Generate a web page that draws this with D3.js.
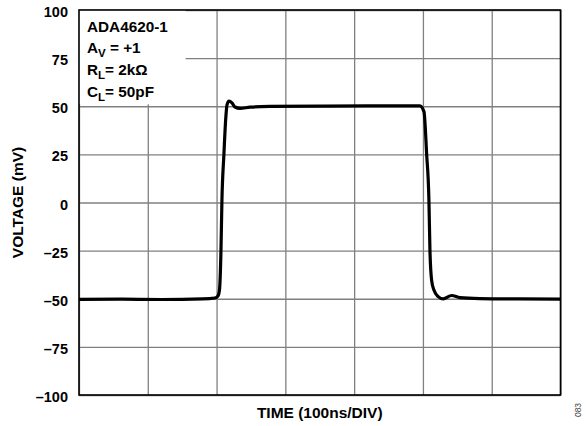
<!DOCTYPE html>
<html lang="en">
    <head>
	<meta charset="utf-8">
	<title>ADA4620-1 Small Signal Step Response</title>
	<script src="https://d3js.org/d3.v7.min.js" charset="utf-8"></script>
	<style>
	 body {
	     margin: 0;
	     background: #fff;
	 }
	 text {
	     font-family: "Liberation Sans", Arial, sans-serif;
	     font-weight: bold;
	 }
	</style>
    </head>
    <body>
	<script type="text/javascript">

	 //Waveform (time in ns, voltage in mV)
	 var timeNs = [0, 60, 120, 180, 197.7, 202, 204.2, 206.4, 207.8, 210.7, 213.2, 215.1, 218, 222.4, 226.7, 234, 248.5, 277.6, 350, 420, 495.6,
		       501.5, 505.4, 508.7, 510.2, 512.6, 516, 522.2, 529.5, 541.7, 553.8, 582.8, 640, 700];
	 var voltageMv = [-50.3, -50.2, -50.4, -50.1, -49.6, -48.6, -45.5, -24.7, 1.3, 25.2, 42.9, 50.6, 52.7, 51.7, 49.6, 48.9, 49.5, 49.9, 50.1, 50.2, 50.2,
			  47.2, 25.2, 1.3, -24.7, -40.3, -45.5, -48.9, -50.1, -48.3, -49.4, -49.9, -50.1, -50.2];

	 //Axis ticks
	 var yTicks = [100, 75, 50, 25, 0, -25, -50, -75, -100];
	 var xTicks = [0, 100, 200, 300, 400, 500, 600, 700];

	 //Legend lines: [main, subscript, rest]
	 var legendLines = [["ADA4620-1", "", ""], ["A", "V", " = +1"], ["R", "L", "= 2k\u03A9"], ["C", "L", "= 50pF"]];

	 //Display specifications
	 var W = 587, H = 426;
	 var margin = {top: 10, right: 26.5, bottom: 31, left: 79};
	 var width = W - margin.left - margin.right;
	 var height = H - margin.top - margin.bottom;

	 var data = timeNs.map(function (t, i) { return {t: t, v: voltageMv[i]}; });

	 var svg = d3.select("body")
		     .append("svg")
		     .attr("width", W)
		     .attr("height", H);

	 var container = svg.append("g")
			    .attr("transform", "translate(" + margin.left + "," + margin.top + ")");

	 var xScale = d3.scaleLinear()
			.domain([0, 700])
			.range([0, width]);

	 var yScale = d3.scaleLinear()
			.domain([-100, 100])
			.range([height, 0]);

	 //Vertical grid
	 container.append("g")
		  .attr("class", "xgrid")
		  .attr("transform", "translate(0," + height + ")")
		  .call(d3.axisBottom(xScale)
			  .tickValues(xTicks)
			  .tickSize(-height)
			  .tickFormat(""));

	 //Horizontal grid + labels
	 container.append("g")
		  .attr("class", "ygrid")
		  .call(d3.axisLeft(yScale)
			  .tickValues(yTicks)
			  .tickSize(-width)
			  .tickPadding(11)
			  .tickFormat(function (d) { return d < 0 ? "\u2013" + Math.abs(d) : d; }));

	 container.selectAll(".domain").remove();
	 container.selectAll(".xgrid line, .ygrid line")
		  .attr("stroke", "#808080")
		  .attr("stroke-width", 1.3);
	 container.selectAll(".ygrid text")
		  .attr("font-size", "14.5px")
		  .attr("dy", "0.45em")
		  .attr("fill", "#000");

	 //Legend box hides the grid behind it
	 container.append("rect")
		  .attr("x", 0)
		  .attr("y", 0)
		  .attr("width", xScale(155))
		  .attr("height", yScale(51))
		  .attr("fill", "#fff");

	 var legend = container.append("g")
			       .attr("transform", "translate(8,0)");

	 legendLines.forEach(function (l, i) {
	     var t = legend.append("text")
			   .attr("x", 0)
			   .attr("y", 21.7 + i * 21.7)
			   .attr("font-size", "15.3px");
	     t.append("tspan").text(l[0]);
	     if (l[1]) {
		 t.append("tspan")
		  .attr("dy", 4)
		  .attr("font-size", "11.5px")
		  .text(l[1]);
		 t.append("tspan")
		  .attr("dy", -4)
		  .text(l[2]);
	     }
	 });

	 //Frame
	 container.append("rect")
		  .attr("width", width)
		  .attr("height", height)
		  .attr("fill", "none")
		  .attr("stroke", "#000")
		  .attr("stroke-width", 1.6);

	 //Trace
	 var line = d3.line()
		      .x(function (d) { return xScale(d.t); })
		      .y(function (d) { return yScale(d.v); })
		      .curve(d3.curveMonotoneX);

	 container.append("path")
		  .datum(data)
		  .attr("d", line)
		  .attr("fill", "none")
		  .attr("stroke", "#000")
		  .attr("stroke-width", 3.2)
		  .attr("stroke-linejoin", "round");

	 //Axis titles
	 svg.append("text")
	    .attr("x", margin.left + width / 2)
	    .attr("y", 418)
	    .attr("text-anchor", "middle")
	    .attr("font-size", "15.5px")
	    .text("TIME (100ns/DIV)");

	 svg.append("text")
	    .attr("transform", "translate(23," + (margin.top + height / 2) + ") rotate(-90)")
	    .attr("text-anchor", "middle")
	    .attr("font-size", "15.5px")
	    .text("VOLTAGE (mV)");

	 svg.append("text")
	    .attr("transform", "translate(581,410) rotate(-90)")
	    .attr("text-anchor", "middle")
	    .attr("font-size", "8.5px")
	    .style("font-weight", "normal")
	    .attr("fill", "#444")
	    .text("083");

	</script>
    </body>
</html>
